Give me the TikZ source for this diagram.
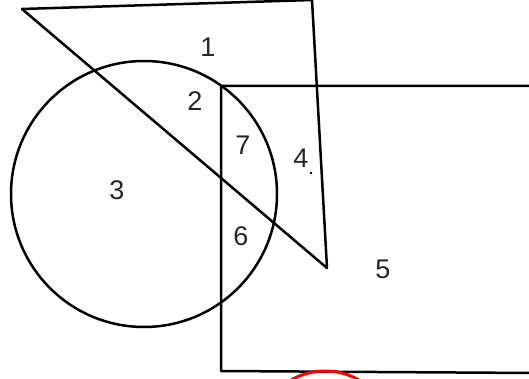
\documentclass[tikz,border=0pt]{standalone}
\usepackage{fontspec}
\setmainfont{Liberation Sans}
\begin{document}
\begin{tikzpicture}[x=1pt,y=-1pt,
  shape line/.style={draw=black, line width=2.5pt, line join=round},
  region label/.style={font=\fontsize{27}{31}\selectfont, inner sep=0pt, text=black!85}]
\useasboundingbox (0,0) rectangle (529,379);
\clip (0,0) rectangle (529,379);
% triangle
\coordinate (tA) at (22,9);
\coordinate (tB) at (312,0);
\coordinate (tC) at (327,268);
\draw[shape line] (tA) -- (tB) -- (tC) -- cycle;
% circle
\coordinate (cO) at (144,194);
\draw[shape line] (cO) circle[radius=133];
% rectangle (open to the right)
\coordinate (rA) at (535,86);
\coordinate (rB) at (221,86);
\coordinate (rC) at (221,371);
\coordinate (rD) at (535,373);
\draw[shape line] (rA) -- (rB) -- (rC) -- (rD);
% red mark
\coordinate (redO) at (325,439);
\draw[red, line width=3pt] (redO) circle[radius=68];
% labels
\node[region label] (l1) at (208,47) {1};
\node[region label] (l2) at (195,101) {2};
\node[region label] (l3) at (117,190) {3};
\node[region label] (l4) at (301,158) {4};
\node[circle, fill=black, inner sep=1pt] (l4dot) at (311,173) {};
\node[region label] (l5) at (383,269) {5};
\node[region label] (l6) at (241,236) {6};
\node[region label] (l7) at (243,145) {7};
\end{tikzpicture}
\end{document}
